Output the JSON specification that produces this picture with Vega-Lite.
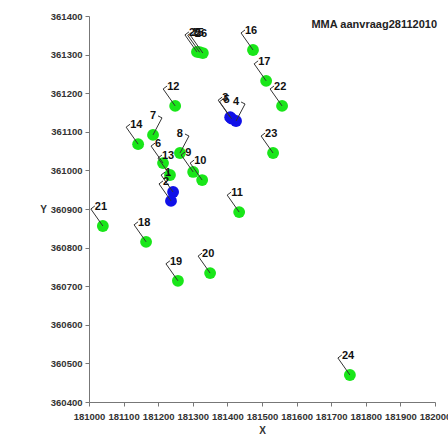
{
  "$schema": "https://vega.github.io/schema/vega-lite/v6.json",
  "width": 346,
  "height": 386,
  "autosize": {"type": "none"},
  "padding": {"left": 89, "top": 16, "right": 13, "bottom": 32},
  "background": "white",
  "title": {"text": "MMA aanvraag28112010", "anchor": "end", "frame": "group", "orient": "top", "offset": 0, "dy": 19, "dx": 2, "fontSize": 11, "font": "Liberation Sans", "fontWeight": "bold", "color": "#222"},
  "config": {"view": {"stroke": null}, "font": "Liberation Sans"},
  "data": {"values": [
    {"id": 1, "x": 181243, "y": 360944},
    {"id": 2, "x": 181237, "y": 360921},
    {"id": 3, "x": 181408, "y": 361138},
    {"id": 4, "x": 181425, "y": 361128},
    {"id": 5, "x": 181412, "y": 361134},
    {"id": 6, "x": 181214, "y": 361019},
    {"id": 7, "x": 181185, "y": 361092},
    {"id": 8, "x": 181263, "y": 361045},
    {"id": 9, "x": 181301, "y": 360996},
    {"id": 10, "x": 181327, "y": 360975},
    {"id": 11, "x": 181434, "y": 360892},
    {"id": 12, "x": 181249, "y": 361167},
    {"id": 13, "x": 181234, "y": 360988},
    {"id": 14, "x": 181142, "y": 361068},
    {"id": 15, "x": 181320, "y": 361306},
    {"id": 16, "x": 181474, "y": 361312},
    {"id": 17, "x": 181512, "y": 361232},
    {"id": 18, "x": 181165, "y": 360815},
    {"id": 19, "x": 181257, "y": 360714},
    {"id": 20, "x": 181350, "y": 360734},
    {"id": 21, "x": 181040, "y": 360856},
    {"id": 22, "x": 181558, "y": 361167},
    {"id": 23, "x": 181532, "y": 361045},
    {"id": 24, "x": 181754, "y": 360470},
    {"id": 25, "x": 181312, "y": 361307},
    {"id": 26, "x": 181329, "y": 361304}
  ]},
  "encoding": {
    "x": {"field": "x", "type": "quantitative",
      "scale": {"domain": [181000, 182000], "nice": false, "zero": false},
      "axis": {"values": [181000, 181100, 181200, 181300, 181400, 181500, 181600, 181700, 181800, 181900, 182000],
        "format": "d", "grid": false, "labelFontSize": 9.5, "labelFontWeight": "bold", "labelColor": "#333",
        "domainColor": "#777", "tickColor": "#777", "tickSize": 4, "labelPadding": 5, "labelFlush": false, "labelOverlap": false,
        "title": "X", "titleFontSize": 10, "titleFontWeight": "bold", "titleColor": "#333", "titleY": 28, "titleBaseline": "middle"}},
    "y": {"field": "y", "type": "quantitative",
      "scale": {"domain": [360400, 361400], "nice": false, "zero": false},
      "axis": {"values": [360400, 360500, 360600, 360700, 360800, 360900, 361000, 361100, 361200, 361300, 361400],
        "format": "d", "grid": false, "labelFontSize": 9.5, "labelFontWeight": "bold", "labelColor": "#333",
        "domainColor": "#777", "tickColor": "#777", "tickSize": 4, "labelPadding": 3, "labelFlush": false, "labelOverlap": false,
        "title": "Y", "titleFontSize": 10, "titleFontWeight": "bold", "titleColor": "#333", "titleAngle": 0,
        "titleX": -46, "titleY": 193, "titleAlign": "center", "titleBaseline": "middle"}}
  },
  "layer": [
    {"mark": {"type": "circle", "size": 140, "opacity": 1},
     "encoding": {"color": {"condition": {"test": "indexof([1,2,3,4,5], datum.id) >= 0", "value": "#1010e8"}, "value": "#19e619"}}},
    {"transform": [{"filter": "indexof([4,7,8], datum.id) < 0"}],
     "mark": {"type": "point", "shape": "M0,0L-12,-17L-8,-20", "size": 4, "filled": false, "fill": null, "stroke": "#333", "strokeWidth": 1, "opacity": 1}},
    {"transform": [{"filter": "indexof([4,7,8], datum.id) >= 0"}],
     "mark": {"type": "point", "shape": "M0,0L9,-17L5,-19", "size": 4, "filled": false, "fill": null, "stroke": "#333", "strokeWidth": 1, "opacity": 1}},
    {"transform": [{"filter": "indexof([4,7,8], datum.id) < 0"}],
     "mark": {"type": "text", "align": "left", "baseline": "middle", "dx": -8, "dy": -19, "fontSize": 11, "fontWeight": "bold", "color": "#111"},
     "encoding": {"text": {"field": "id", "type": "nominal"}}},
    {"transform": [{"filter": "indexof([4,7,8], datum.id) >= 0"}],
     "mark": {"type": "text", "align": "right", "baseline": "middle", "dx": 3, "dy": -19, "fontSize": 11, "fontWeight": "bold", "color": "#111"},
     "encoding": {"text": {"field": "id", "type": "nominal"}}}
  ]
}
